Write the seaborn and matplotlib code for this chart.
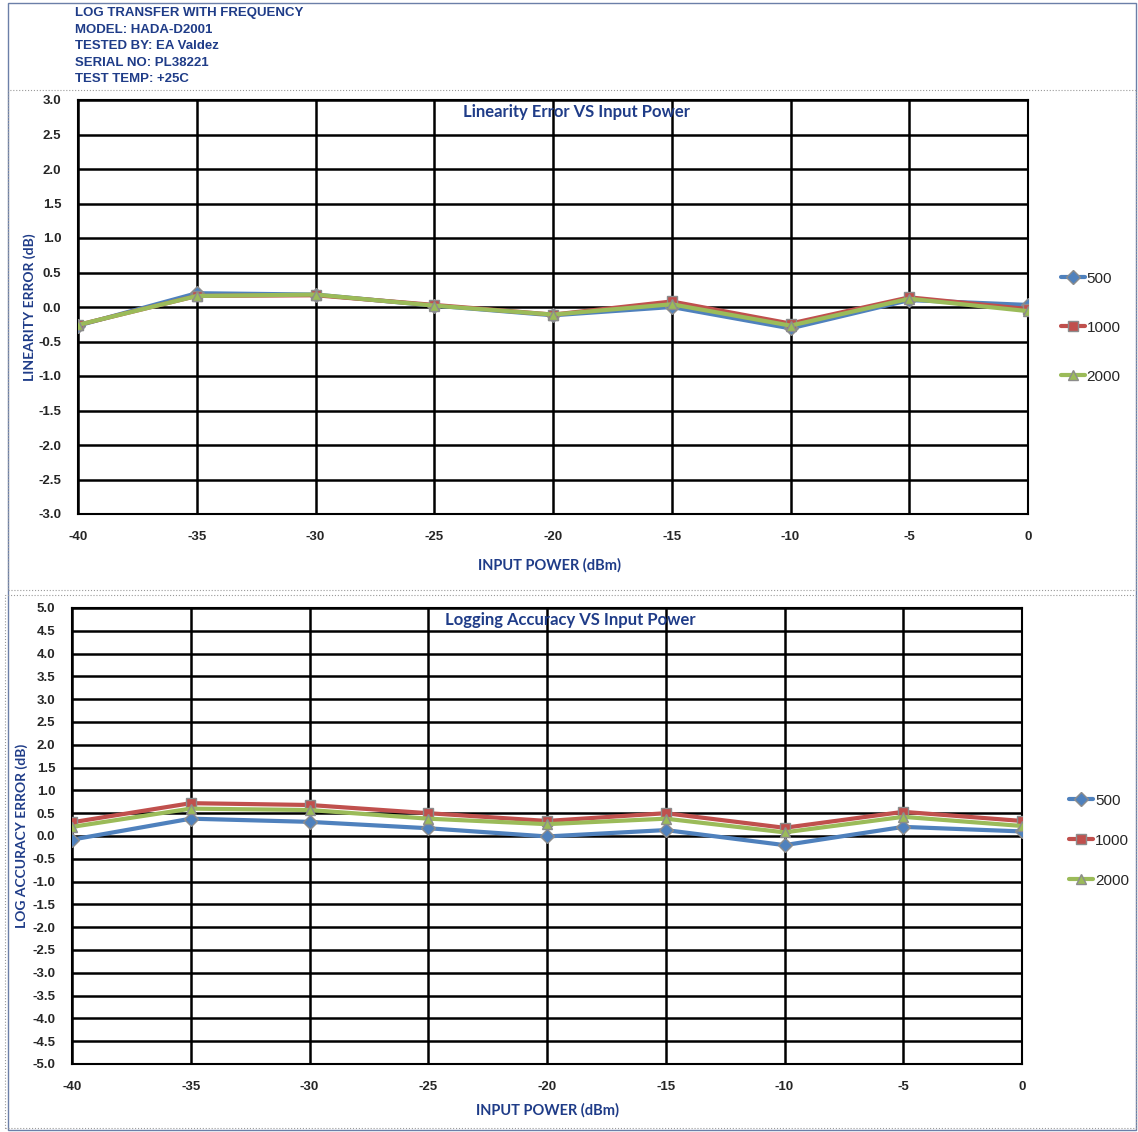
import matplotlib
matplotlib.use("Agg")
import matplotlib.pyplot as plt
import pandas as pd
import seaborn as sns
from matplotlib.patches import Rectangle

# values
input_power = [-40, -35, -30, -25, -20, -15, -10, -5, 0]
freqs = ["500", "1000", "2000"]

lin_500 = [-0.27, 0.20, 0.18, 0.02, -0.12, 0.00, -0.31, 0.10, 0.03]
lin_1000 = [-0.26, 0.16, 0.17, 0.03, -0.11, 0.08, -0.24, 0.14, -0.03]
lin_2000 = [-0.26, 0.16, 0.18, 0.02, -0.11, 0.04, -0.27, 0.12, -0.06]

acc_500 = [-0.08, 0.38, 0.31, 0.17, -0.01, 0.13, -0.20, 0.20, 0.10]
acc_1000 = [0.30, 0.72, 0.68, 0.50, 0.33, 0.50, 0.18, 0.53, 0.33]
acc_2000 = [0.20, 0.60, 0.57, 0.38, 0.26, 0.38, 0.08, 0.42, 0.22]

header_lines = [
    "LOG TRANSFER WITH FREQUENCY",
    "MODEL: HADA-D2001",
    "TESTED BY: EA Valdez",
    "SERIAL NO: PL38221",
    "TEST TEMP: +25C",
]

lin_yticks = [-3.0, -2.5, -2.0, -1.5, -1.0, -0.5, 0.0, 0.5, 1.0, 1.5, 2.0, 2.5, 3.0]
acc_yticks = [-5.0, -4.5, -4.0, -3.5, -3.0, -2.5, -2.0, -1.5, -1.0, -0.5, 0.0,
              0.5, 1.0, 1.5, 2.0, 2.5, 3.0, 3.5, 4.0, 4.5, 5.0]

palette = {"500": "#4F81BD", "1000": "#C0504D", "2000": "#9BBB59"}
markers = {"500": "D", "1000": "s", "2000": "^"}
BLUE = "#1F3C88"


def to_long(series):
    rows = []
    for freq, vals in zip(freqs, series):
        for p, v in zip(input_power, vals):
            rows.append({"power": p, "value": v, "freq": freq})
    return pd.DataFrame(rows)


def draw_panel(ax, df, yticks, title, title_y, legend_anchor, spacing):
    sns.lineplot(
        data=df, x="power", y="value", hue="freq", style="freq",
        palette=palette, markers=markers, dashes=False, linewidth=3,
        markersize=7, markeredgecolor="#8c8c8c", markeredgewidth=1,
        ax=ax, zorder=5,
    )
    ax.set_xlim(-40, 0)
    ax.set_ylim(yticks[0], yticks[-1])
    ax.set_xticks(input_power)
    ax.set_yticks(yticks)
    ax.set_yticklabels([f"{t:.1f}" for t in yticks])
    ax.grid(True, color="black", linewidth=1.8)
    ax.set_axisbelow(True)
    for s in ax.spines.values():
        s.set_color("black")
        s.set_linewidth(1.5)
    ax.tick_params(labelsize=9.5, length=4, color="black", pad=8)
    for lbl in ax.get_xticklabels() + ax.get_yticklabels():
        lbl.set_fontweight("bold")
    ax.set_xlabel("")
    ax.set_ylabel("")
    ax.text(0.525, title_y, title, transform=ax.transAxes, ha="center", va="center",
            fontsize=12, fontweight="bold", color=BLUE, family="Lato")

    handles, labels = ax.get_legend_handles_labels()
    keep = [(h, l) for h, l in zip(handles, labels) if l in freqs]
    ax.legend([h for h, _ in keep], [l for _, l in keep], loc="center left",
              bbox_to_anchor=legend_anchor, frameon=False, fontsize=11,
              labelspacing=spacing, handlelength=1.6, handletextpad=0.1)


sns.set_theme(style="white")
plt.rcParams["font.family"] = ["Liberation Sans", "DejaVu Sans"]
plt.rcParams["axes.unicode_minus"] = False

fig = plt.figure(figsize=(11.38, 11.32), dpi=100)
W, H = 1138, 1132

# panel frames
fig.patches.append(Rectangle((8 / W, 1 - 1130 / H), 1128 / W, 1127 / H,
                             transform=fig.transFigure, fill=False,
                             edgecolor="#6b7fa8", linewidth=1))
fig.patches.append(Rectangle((8 / W, 1 - 590 / H), 1128 / W, 500 / H,
                             transform=fig.transFigure, fill=False,
                             edgecolor="#9a9a9a", linewidth=0.8, linestyle=":"))
fig.patches.append(Rectangle((5 / W, 1 - 1128 / H), 1131 / W, 533 / H,
                             transform=fig.transFigure, fill=False,
                             edgecolor="#9a9a9a", linewidth=0.8, linestyle=":"))

for i, line in enumerate(header_lines):
    fig.text(75 / W, 1 - (13 + 16.6 * i) / H, line, ha="left", va="center",
             fontsize=9.5, fontweight="bold", color=BLUE)

ax1 = fig.add_axes([78 / W, 1 - 514 / H, 950 / W, 414 / H])
draw_panel(ax1, to_long([lin_500, lin_1000, lin_2000]), lin_yticks,
           "Linearity Error VS Input Power", 0.971, (1.02, 0.45), 2.3)
fig.text(30 / W, 1 - 307 / H, "LINEARITY ERROR (dB)", rotation=90,
         ha="center", va="center", fontsize=10, fontweight="bold",
         color=BLUE, family="Lato")
fig.text(550 / W, 1 - 565 / H, "INPUT POWER (dBm)", ha="center", va="center",
         fontsize=10.5, fontweight="bold", color=BLUE, family="Lato")

ax2 = fig.add_axes([72 / W, 1 - 1064 / H, 950 / W, 456 / H])
draw_panel(ax2, to_long([acc_500, acc_1000, acc_2000]), acc_yticks,
           "Logging Accuracy VS Input Power", 0.974, (1.035, 0.49), 1.7)
fig.text(22 / W, 1 - 836 / H, "LOG ACCURACY ERROR (dB)", rotation=90,
         ha="center", va="center", fontsize=10, fontweight="bold",
         color=BLUE, family="Lato")
fig.text(548 / W, 1 - 1110 / H, "INPUT POWER (dBm)", ha="center", va="center",
         fontsize=10.5, fontweight="bold", color=BLUE, family="Lato")

fig.savefig("out.png", dpi=100)
